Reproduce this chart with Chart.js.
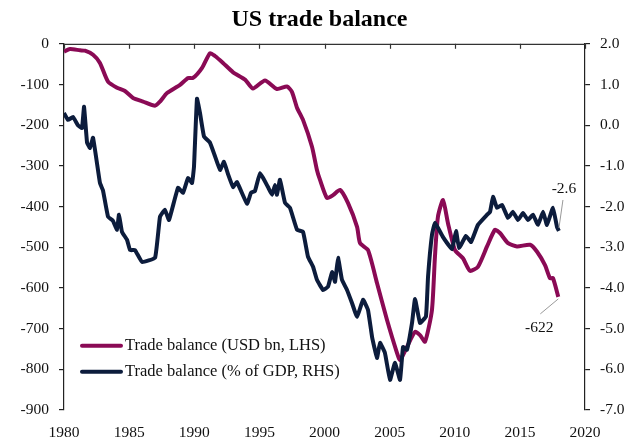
<!DOCTYPE html>
<html>
<head>
<meta charset="utf-8">
<script src="https://cdn.jsdelivr.net/npm/chart.js@4"></script>
<style>
html,body{margin:0;padding:0;background:#fff;}
#wrap{width:639px;height:440px;position:relative;}
</style>
</head>
<body>
<div id="wrap"><canvas id="c" width="639" height="440"></canvas></div>
<script>
// ---- data ----
const usdYears = [1980.0,1980.46,1981.23,1981.61,1982.23,1982.76,1983.38,1984.07,1984.68,1985.30,1986.07,1986.99,1987.37,1987.91,1988.91,1989.52,1989.90,1990.60,1991.21,1991.59,1992.21,1992.98,1993.90,1994.51,1995.43,1996.35,1997.12,1997.50,1997.89,1998.35,1999.04,1999.42,1999.65,2000.19,2000.65,2001.19,2001.80,2002.50,2002.73,2003.34,2004.03,2004.80,2005.57,2005.80,2006.33,2006.95,2007.33,2007.72,2008.25,2008.48,2008.71,2009.10,2009.48,2010.02,2010.63,2011.17,2011.78,2012.48,2013.09,2013.47,2014.09,2014.78,2015.78,2016.32,2016.93,2017.31,2017.54,2017.95];
const usdValues = [-19,-13,-16,-17,-27,-47,-93,-108,-116,-133,-142,-152,-142,-121,-101,-84,-84,-59,-23,-30,-47,-70,-88,-110,-90,-111,-105,-118,-157,-187,-253,-310,-334,-379,-372,-359,-391,-450,-490,-507,-588,-679,-760,-777,-745,-708,-716,-732,-654,-523,-425,-384,-441,-507,-527,-558,-548,-498,-457,-465,-490,-498,-494,-511,-544,-576,-576,-622];
const gdpYears = [1980.0,1980.31,1980.69,1981.07,1981.38,1981.54,1981.77,1982.00,1982.23,1982.76,1982.99,1983.38,1983.76,1984.07,1984.22,1984.45,1984.84,1985.07,1985.45,1985.99,1986.99,1987.37,1987.75,1988.06,1988.75,1989.14,1989.52,1989.83,1989.98,1990.21,1990.44,1990.75,1991.21,1991.59,1991.98,1992.28,1992.59,1992.98,1993.28,1994.05,1994.36,1994.66,1995.05,1995.66,1995.97,1996.20,1996.35,1996.58,1996.97,1997.35,1997.89,1998.35,1998.73,1999.12,1999.42,1999.89,2000.27,2000.58,2000.81,2001.04,2001.34,2001.73,2002.11,2002.50,2002.96,2003.34,2003.65,2004.03,2004.26,2004.64,2005.03,2005.41,2005.80,2006.03,2006.33,2006.72,2006.95,2007.33,2007.79,2007.95,2008.25,2008.48,2009.10,2009.79,2010.10,2010.33,2010.86,2011.25,2011.78,2012.48,2012.71,2012.94,2013.24,2013.63,2014.09,2014.47,2014.86,2015.24,2015.62,2016.01,2016.39,2016.78,2017.08,2017.54,2017.85,2018.00];
const gdpValues = [0.30,0.13,0.20,0.00,-0.07,0.45,-0.43,-0.56,-0.31,-1.42,-1.60,-2.25,-2.35,-2.57,-2.20,-2.62,-2.82,-3.07,-3.07,-3.36,-3.26,-2.25,-2.08,-2.33,-1.54,-1.66,-1.30,-1.42,-1.02,0.65,0.30,-0.28,-0.43,-0.76,-1.10,-0.90,-1.20,-1.52,-1.40,-1.93,-1.66,-1.62,-1.18,-1.52,-1.71,-1.47,-1.71,-1.34,-1.91,-2.03,-2.57,-2.62,-3.23,-3.48,-3.80,-4.05,-3.97,-3.61,-3.85,-3.26,-3.80,-4.05,-4.37,-4.71,-4.29,-4.54,-5.20,-5.72,-5.35,-5.60,-6.26,-5.84,-6.26,-5.45,-5.52,-4.86,-4.27,-4.86,-4.70,-3.72,-2.70,-2.40,-2.75,-3.05,-2.60,-3.02,-2.72,-2.87,-2.45,-2.20,-2.13,-1.76,-2.03,-1.96,-2.28,-2.13,-2.33,-2.16,-2.33,-2.20,-2.45,-2.13,-2.45,-2.03,-2.50,-2.60];
const seriesNames = ["Trade balance (USD bn, LHS)", "Trade balance (% of GDP, RHS)"];
const xTickYears = [1980,1985,1990,1995,2000,2005,2010,2015,2020];
const leftTicks = [0,-100,-200,-300,-400,-500,-600,-700,-800,-900];
const rightTicks = [2,1,0,-1,-2,-3,-4,-5,-6,-7];
const endLabels = ["-622", "-2.6"];
const titleText = "US trade balance";

const PINK = "#8a0a55";
const NAVY = "#0c1c3c";
const FONT = "'Liberation Serif','Times New Roman',serif";
Chart.defaults.font.family = FONT;
Chart.defaults.color = "#111";

const frame = {
  id: 'frame',
  afterDatasetsDraw(chart) {
    const {ctx, chartArea: a, scales} = chart;
    ctx.save();
    // top axis line with inward ticks
    ctx.strokeStyle = "#333"; ctx.lineWidth = 1.2;
    ctx.beginPath(); ctx.moveTo(a.left, a.top + 0.5); ctx.lineTo(a.right, a.top + 0.5); ctx.stroke();
    xTickYears.forEach(y => {
      const px = Math.round(scales.x.getPixelForValue(y)) + 0.5;
      ctx.beginPath(); ctx.moveTo(px, a.top); ctx.lineTo(px, a.top + 5); ctx.stroke();
    });
    // legend
    ctx.lineWidth = 4; ctx.lineCap = "round";
    const lx = a.left + 18, ly = a.top + 302, gap = 26;
    [PINK, NAVY].forEach((c, i) => {
      ctx.strokeStyle = c;
      ctx.beginPath(); ctx.moveTo(lx, ly + i * gap); ctx.lineTo(lx + 39, ly + i * gap); ctx.stroke();
      ctx.fillStyle = "#111"; ctx.font = "16.5px " + FONT; ctx.textBaseline = "middle"; ctx.textAlign = "left";
      ctx.fillText(seriesNames[i], lx + 43, ly + i * gap);
    });
    // end labels with leader lines
    ctx.lineWidth = 1; ctx.strokeStyle = "#999"; ctx.lineCap = "butt";
    const pe = {x: scales.x.getPixelForValue(usdYears[usdYears.length-1]), y: scales.y.getPixelForValue(usdValues[usdValues.length-1])};
    const ge = {x: scales.x.getPixelForValue(gdpYears[gdpYears.length-1]), y: scales.y2.getPixelForValue(gdpValues[gdpValues.length-1])};
    ctx.beginPath(); ctx.moveTo(pe.x, pe.y + 2); ctx.lineTo(pe.x - 18, pe.y + 17); ctx.stroke();
    ctx.beginPath(); ctx.moveTo(ge.x, ge.y - 3); ctx.lineTo(ge.x + 4, ge.y - 31); ctx.stroke();
    ctx.fillStyle = "#111"; ctx.font = "15.5px " + FONT; ctx.textAlign = "center"; ctx.textBaseline = "middle";
    ctx.fillText(endLabels[0], pe.x - 19, pe.y + 31);
    ctx.fillText(endLabels[1], ge.x + 5, ge.y - 42);
    ctx.restore();
  }
};

new Chart(document.getElementById('c'), {
  type: 'line',
  data: {
    datasets: [
      {label: seriesNames[0], data: usdYears.map((x,i)=>({x, y: usdValues[i]})), borderColor: PINK, backgroundColor: PINK, borderWidth: 4, pointRadius: 0, tension: 0.2, yAxisID: 'y', order: 1},
      {label: seriesNames[1], data: gdpYears.map((x,i)=>({x, y: gdpValues[i]})), borderColor: NAVY, backgroundColor: NAVY, borderWidth: 4, pointRadius: 0, tension: 0.1, yAxisID: 'y2', order: 0}
    ]
  },
  options: {
    responsive: false, animation: false,
    layout: {padding: 0},
    plugins: {
      legend: {display: false}, tooltip: {enabled: false},
      title: {display: true, text: titleText, color: "#000", font: {size: 24, weight: 'bold', family: FONT}, padding: {top: 5, bottom: 10}}
    },
    scales: {
      x: {type: 'linear', position: 'bottom', min: 1980, max: 2020,
          border: {display: false}, grid: {display: false, drawTicks: false},
          afterBuildTicks: s => { s.ticks = xTickYears.map(v => ({value: v})); },
          ticks: {autoSkip: false, maxRotation: 0, padding: 14, font: {size: 15.5}, color: "#111", callback: v => String(v)},
          afterFit: s => { s.height = 30; }},
      y: {position: 'left', min: -900, max: 0,
          border: {display: true, color: "#222", width: 1.2},
          grid: {drawOnChartArea: false, tickLength: 5, color: "#222", lineWidth: 1.2},
          afterBuildTicks: s => { s.ticks = leftTicks.map(v => ({value: v})); },
          ticks: {autoSkip: false, padding: 10, font: {size: 15.5}, color: "#111", callback: v => String(v)},
          afterFit: s => { s.width = 64; }},
      y2: {position: 'right', min: -7, max: 2,
          border: {display: true, color: "#222", width: 1.2},
          grid: {drawOnChartArea: false, tickLength: 5, color: "#222", lineWidth: 1.2},
          afterBuildTicks: s => { s.ticks = rightTicks.map(v => ({value: v})); },
          ticks: {autoSkip: false, padding: 10, font: {size: 15.5}, color: "#111", callback: v => Number(v).toFixed(1)},
          afterFit: s => { s.width = 54; }}
    }
  },
  plugins: [frame]
});
</script>
</body>
</html>
